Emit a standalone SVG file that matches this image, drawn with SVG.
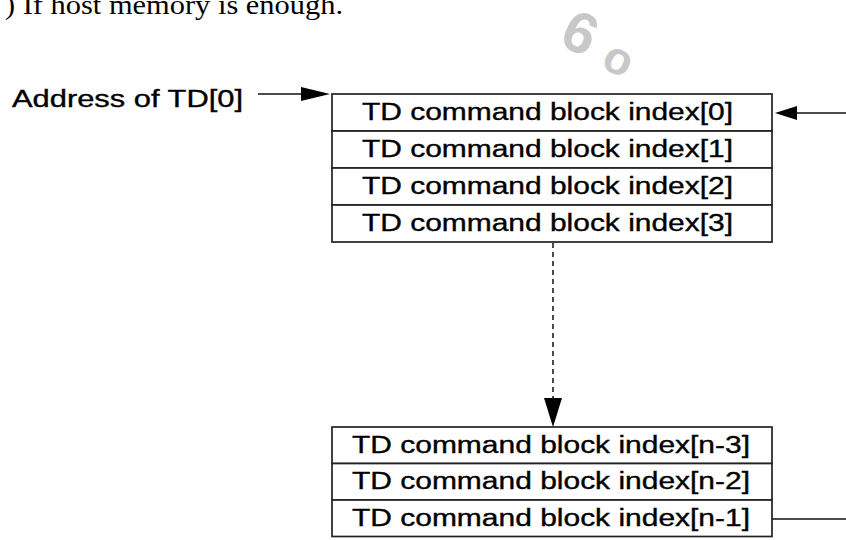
<svg xmlns="http://www.w3.org/2000/svg" width="846" height="540" viewBox="0 0 846 540">
  <style>
    .cell { fill: #ffffff; stroke: #222222; stroke-width: 1.7; }
    .label { font-family: "Liberation Sans", Arial, sans-serif; font-size: 23px; fill: #000000; stroke: #000000; stroke-width: 0.35; }
    .wire { fill: none; stroke: #111111; stroke-width: 1.5; }
    .dash { fill: none; stroke: #111111; stroke-width: 1.5; stroke-dasharray: 5 4; }
    .head { fill: #000000; stroke: none; }
  </style>

  <!-- running text above the figure -->
  <text x="5" y="14" font-family="'Liberation Serif', 'Times New Roman', serif" font-size="28" fill="#000" textLength="338" lengthAdjust="spacingAndGlyphs">) If host memory is enough.</text>

  <!-- faint watermark fragment -->
  <g fill="#c8c8c8" font-family="'Liberation Sans', sans-serif" font-weight="bold">
    <text x="564" y="54" font-size="58" transform="rotate(25 583 34)">6</text>
    <text x="606" y="76" font-size="46" transform="rotate(25 623 57)">o</text>
  </g>

  <g id="address-label">
    <text class="label" x="12" y="107" font-size="26" textLength="231" lengthAdjust="spacingAndGlyphs">Address of TD[0]</text>
  </g>

  <g id="td-block-top">
    <rect class="cell" x="332" y="94" width="440" height="37"/>
    <rect class="cell" x="332" y="131" width="440" height="37"/>
    <rect class="cell" x="332" y="168" width="440" height="37"/>
    <rect class="cell" x="332" y="205" width="440" height="37"/>
    <text class="label" x="362" y="120" textLength="371" lengthAdjust="spacingAndGlyphs">TD command block index[0]</text>
    <text class="label" x="362" y="157" textLength="371" lengthAdjust="spacingAndGlyphs">TD command block index[1]</text>
    <text class="label" x="362" y="194" textLength="371" lengthAdjust="spacingAndGlyphs">TD command block index[2]</text>
    <text class="label" x="362" y="231" textLength="371" lengthAdjust="spacingAndGlyphs">TD command block index[3]</text>
  </g>

  <g id="td-block-bottom">
    <rect class="cell" x="332" y="427" width="440" height="36.5"/>
    <rect class="cell" x="332" y="463.5" width="440" height="36.5"/>
    <rect class="cell" x="332" y="500" width="440" height="36.5"/>
    <text class="label" x="352" y="453" textLength="398" lengthAdjust="spacingAndGlyphs">TD command block index[n-3]</text>
    <text class="label" x="352" y="489" textLength="398" lengthAdjust="spacingAndGlyphs">TD command block index[n-2]</text>
    <text class="label" x="352" y="526" textLength="398" lengthAdjust="spacingAndGlyphs">TD command block index[n-1]</text>
  </g>

  <g id="connectors">
    <!-- address pointer into the first block -->
    <line class="wire" x1="258" y1="94" x2="305" y2="94"/>
    <polygon class="head" points="301,87 330,94 301,101"/>
    <!-- wrap-around link returning to index[0] -->
    <line class="wire" x1="792" y1="113" x2="846" y2="113"/>
    <polygon class="head" points="797,106 775,113 797,120"/>
    <!-- elided entries between index[3] and index[n-3] -->
    <line class="dash" x1="553" y1="243" x2="553" y2="400"/>
    <polygon class="head" points="544,398 562,398 553,427"/>
    <!-- link leaving index[n-1] -->
    <line class="wire" x1="772" y1="519" x2="846" y2="519"/>
  </g>
</svg>
